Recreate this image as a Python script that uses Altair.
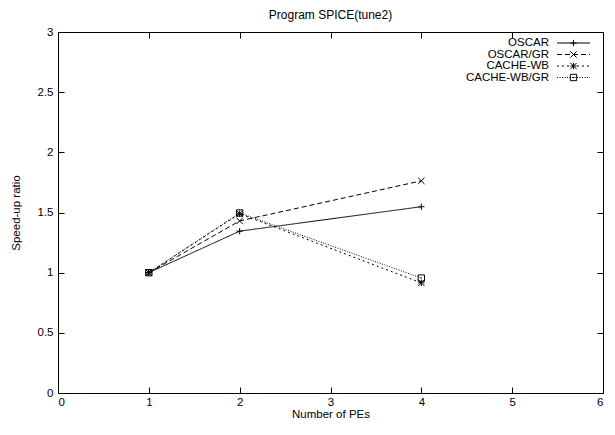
import altair as alt
import pandas as pd

series = ["OSCAR", "OSCAR/GR", "CACHE-WB", "CACHE-WB/GR"]
pes = [1, 2, 4]
oscar = [1.0, 1.345, 1.548]
oscar_gr = [1.0, 1.43, 1.763]
cache_wb = [1.0, 1.49, 0.915]
cache_wb_gr = [1.0, 1.496, 0.955]
x_ticks = [0, 1, 2, 3, 4, 5, 6]
y_ticks = [0, 0.5, 1, 1.5, 2, 2.5, 3]
title_text = ["Program SPICE(tune2)"]

values = [oscar, oscar_gr, cache_wb, cache_wb_gr]
rows = []
for s, vals in zip(series, values):
    for x, y in zip(pes, vals):
        rows.append({"series": s, "x": x, "y": y})
df = pd.DataFrame(rows)
leg = pd.DataFrame({"series": series, "idx": list(range(len(series)))})

FONT = "Liberation Sans"
W, H = 545, 361
dashes = [[1, 0], [5, 3], [2, 3], [1, 1.5]]
shapes = [
    "M-1,0L1,0M0,-1L0,1",
    "M-1,-1L1,1M-1,1L1,-1",
    "M-1,0L1,0M0,-1L0,1M-1,-1L1,1M-1,1L1,-1",
    "M-1,-1L1,-1L1,1L-1,1Z M-0.2,0L0.2,0",
]
dash_scale = alt.Scale(domain=series, range=dashes)
shape_scale = alt.Scale(domain=series, range=shapes)
xs = alt.Scale(domain=[0, 6], nice=False, zero=False)
ys = alt.Scale(domain=[0, 3], nice=False, zero=False)

TICK = 6
base = alt.Chart(df)

lines = base.mark_line(color="black", strokeWidth=1).encode(
    x=alt.X("x:Q", scale=xs, axis=alt.Axis(
        values=x_ticks, orient="bottom", offset=-TICK, tickSize=TICK,
        labelPadding=3, title="Number of PEs", titlePadding=1, format="~g")),
    y=alt.Y("y:Q", scale=ys, axis=alt.Axis(
        values=y_ticks, orient="left", offset=-TICK, tickSize=TICK,
        labelPadding=5, title="Speed-up ratio", titlePadding=16, format="~g")),
    strokeDash=alt.StrokeDash("series:N", scale=dash_scale, legend=None),
    order="x:Q",
)

points = base.mark_point(filled=False, color="black", strokeWidth=1, size=40, opacity=1).encode(
    x=alt.X("x:Q", scale=xs, axis=alt.Axis(
        values=x_ticks, orient="top", offset=-TICK, tickSize=TICK,
        labels=False, title=None)),
    y=alt.Y("y:Q", scale=ys, axis=alt.Axis(
        values=y_ticks, orient="right", offset=-TICK, tickSize=TICK,
        labels=False, title=None)),
    shape=alt.Shape("series:N", scale=shape_scale, legend=None),
)

lb = alt.Chart(leg).transform_calculate(py="11 + 11.5 * datum.idx")
leg_text = lb.mark_text(align="right", baseline="middle", font=FONT, fontSize=11.5, color="black").encode(
    x=alt.value(W - 54),
    y=alt.Y("py:Q", scale=None, axis=None),
    text="series:N",
)
leg_rule = lb.mark_rule(color="black", strokeWidth=1).encode(
    x=alt.value(W - 46), x2=alt.value(W - 13),
    y=alt.Y("py:Q", scale=None, axis=None),
    strokeDash=alt.StrokeDash("series:N", scale=dash_scale, legend=None),
)
leg_pt = lb.mark_point(filled=False, color="black", strokeWidth=1, size=40, opacity=1).encode(
    x=alt.value(W - 29.5),
    y=alt.Y("py:Q", scale=None, axis=None),
    shape=alt.Shape("series:N", scale=shape_scale, legend=None),
)

title = alt.Chart(pd.DataFrame({"t": title_text})).mark_text(
    align="center", baseline="middle", font=FONT, fontSize=12, color="black"
).encode(x=alt.value(W / 2), y=alt.value(-17), text="t:N")

chart = alt.layer(lines, points, leg_rule, leg_pt, leg_text, title).resolve_axis(
    x="independent", y="independent"
).properties(
    width=W, height=H,
    autosize=alt.AutoSizeParams(type="none"),
    padding={"left": 50, "top": 24, "right": 4, "bottom": 29},
).configure_view(stroke="black", strokeWidth=1).configure_axis(
    domain=False, grid=False, tickColor="black", tickWidth=1,
    labelFont=FONT, labelFontSize=11.5, labelColor="black",
    titleFont=FONT, titleFontSize=11.5, titleColor="black", titleFontWeight="normal",
)

chart.save("out.html", embed_options={"renderer": "svg", "actions": False})
